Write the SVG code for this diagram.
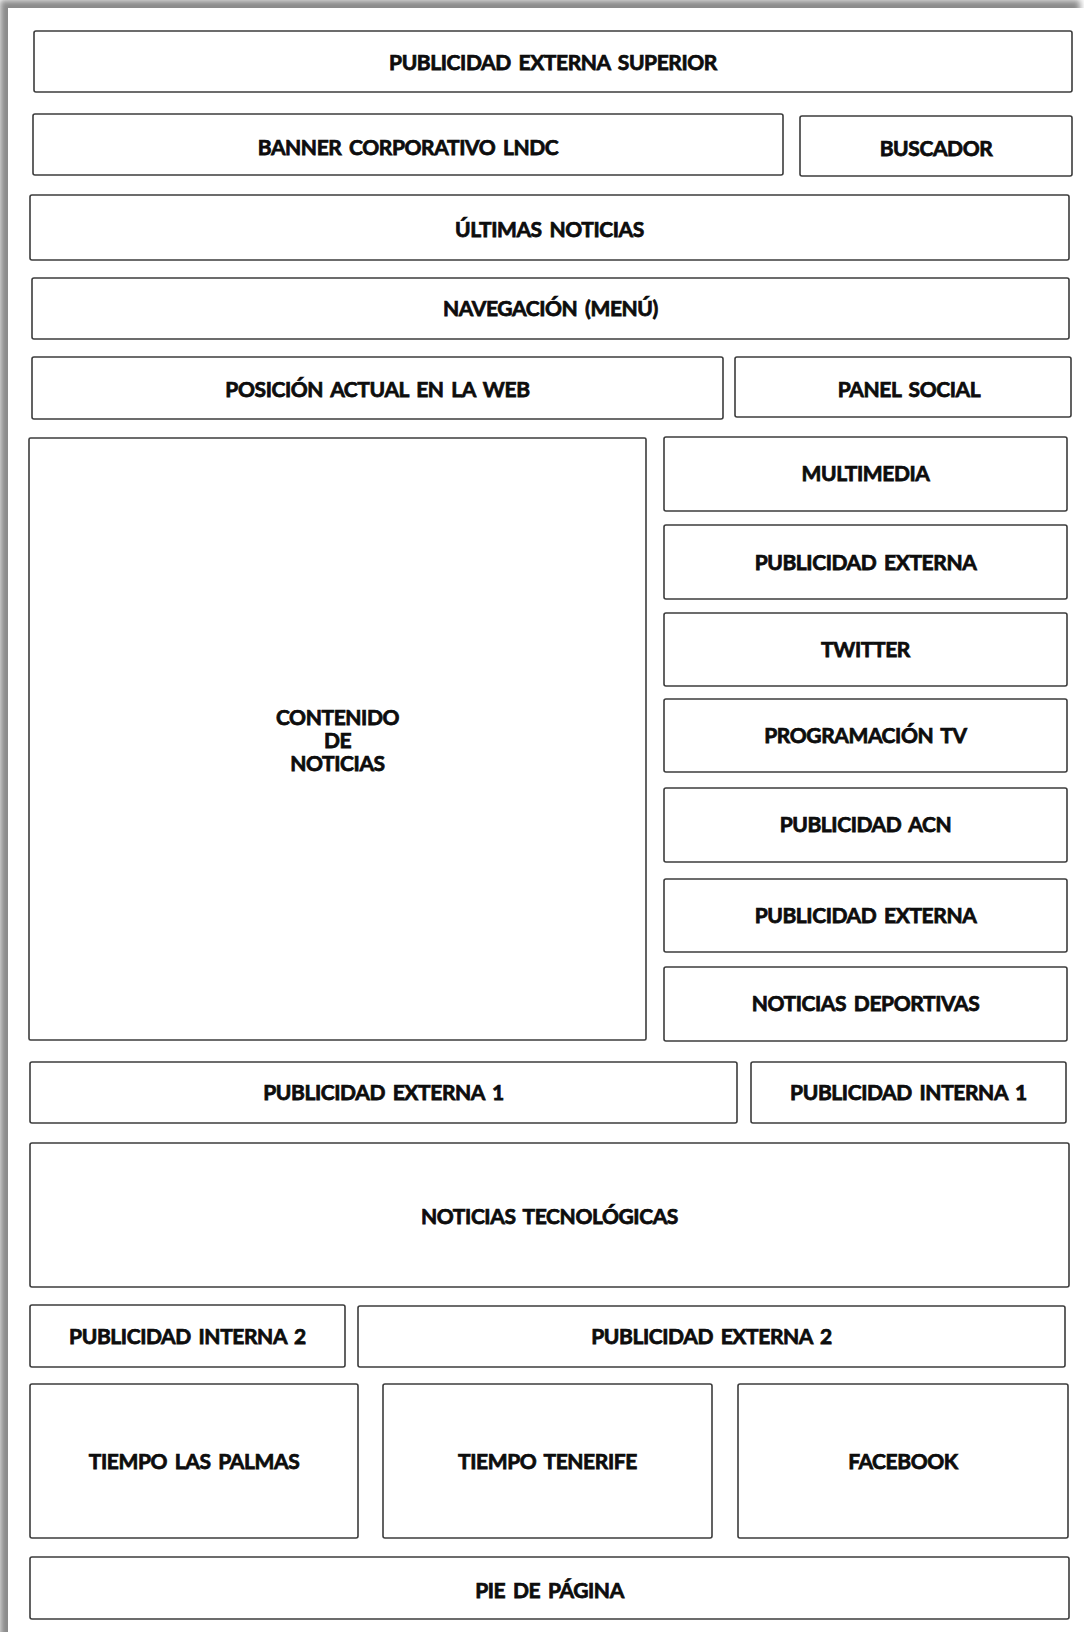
<svg xmlns="http://www.w3.org/2000/svg" width="1084" height="1632" viewBox="0 0 1084 1632">
  <style>
    .box { fill: #ffffff; stroke: #3c3c3c; stroke-width: 1.6; }
    .lbl { font-family: Lato, "Open Sans", "Liberation Sans", sans-serif; font-weight: 700; font-size: 21px; fill: #0d0d0d; stroke: #0d0d0d; stroke-width: 0.75px; text-anchor: middle; letter-spacing: -0.4px; word-spacing: 3px; }
  </style>
  <defs>
    <filter id="pageShadow" x="-5%" y="-5%" width="110%" height="110%">
      <feGaussianBlur stdDeviation="3"/>
    </filter>
  </defs>

  <!-- page sheet with soft drop shadow on top/left -->
  <rect x="0" y="0" width="1084" height="1632" fill="#ffffff"/>
  <rect x="0" y="0" width="1080" height="1650" fill="#8a8a8a" filter="url(#pageShadow)"/>
  <rect x="8" y="8" width="1076" height="1624" fill="#ffffff"/>

  <g id="connectors"/>

  <g id="publicidad-externa-superior">
    <rect class="box" x="34" y="31" width="1038" height="61" rx="2"/>
    <text class="lbl" x="553" y="70">PUBLICIDAD EXTERNA SUPERIOR</text>
  </g>
  <g id="banner-corporativo">
    <rect class="box" x="33" y="114" width="750" height="61" rx="2"/>
    <text class="lbl" x="408" y="155">BANNER CORPORATIVO LNDC</text>
  </g>
  <g id="buscador">
    <rect class="box" x="800" y="116" width="272" height="60" rx="2"/>
    <text class="lbl" x="936" y="155.5">BUSCADOR</text>
  </g>
  <g id="ultimas-noticias">
    <rect class="box" x="30" y="195" width="1039" height="65" rx="2"/>
    <text class="lbl" x="549.5" y="237">ÚLTIMAS NOTICIAS</text>
  </g>
  <g id="navegacion">
    <rect class="box" x="32" y="278" width="1037" height="61" rx="2"/>
    <text class="lbl" x="550.5" y="316">NAVEGACIÓN (MENÚ)</text>
  </g>
  <g id="posicion-actual">
    <rect class="box" x="32" y="357" width="691" height="62" rx="2"/>
    <text class="lbl" x="377.5" y="396.5">POSICIÓN ACTUAL EN LA WEB</text>
  </g>
  <g id="panel-social">
    <rect class="box" x="735" y="357" width="336" height="60" rx="2"/>
    <text class="lbl" x="909" y="396.5">PANEL SOCIAL</text>
  </g>

  <g id="contenido-noticias">
    <rect class="box" x="29" y="438" width="617" height="602" rx="1.5"/>
    <text class="lbl" x="337.5" y="725">CONTENIDO</text>
    <text class="lbl" x="337.5" y="748">DE</text>
    <text class="lbl" x="337.5" y="771">NOTICIAS</text>
  </g>

  <g id="multimedia">
    <rect class="box" x="664" y="437" width="403" height="74" rx="2"/>
    <text class="lbl" x="865.5" y="481">MULTIMEDIA</text>
  </g>
  <g id="publicidad-externa-a">
    <rect class="box" x="664" y="525" width="403" height="74" rx="2"/>
    <text class="lbl" x="865.5" y="569.5">PUBLICIDAD EXTERNA</text>
  </g>
  <g id="twitter">
    <rect class="box" x="664" y="613" width="403" height="73" rx="2"/>
    <text class="lbl" x="865.5" y="657">TWITTER</text>
  </g>
  <g id="programacion-tv">
    <rect class="box" x="664" y="699" width="403" height="73" rx="2"/>
    <text class="lbl" x="865.5" y="743">PROGRAMACIÓN TV</text>
  </g>
  <g id="publicidad-acn">
    <rect class="box" x="664" y="788" width="403" height="74" rx="2"/>
    <text class="lbl" x="865.5" y="832">PUBLICIDAD ACN</text>
  </g>
  <g id="publicidad-externa-b">
    <rect class="box" x="664" y="879" width="403" height="73" rx="2"/>
    <text class="lbl" x="865.5" y="923">PUBLICIDAD EXTERNA</text>
  </g>
  <g id="noticias-deportivas">
    <rect class="box" x="664" y="967" width="403" height="74" rx="2"/>
    <text class="lbl" x="865.5" y="1011">NOTICIAS DEPORTIVAS</text>
  </g>

  <g id="publicidad-externa-1">
    <rect class="box" x="30" y="1062" width="707" height="61" rx="2"/>
    <text class="lbl" x="383.5" y="1100">PUBLICIDAD EXTERNA 1</text>
  </g>
  <g id="publicidad-interna-1">
    <rect class="box" x="751" y="1062" width="315" height="61" rx="2"/>
    <text class="lbl" x="908.5" y="1100">PUBLICIDAD INTERNA 1</text>
  </g>
  <g id="noticias-tecnologicas">
    <rect class="box" x="30" y="1143" width="1039" height="144" rx="2"/>
    <text class="lbl" x="549.5" y="1223.5">NOTICIAS TECNOLÓGICAS</text>
  </g>
  <g id="publicidad-interna-2">
    <rect class="box" x="30" y="1305" width="315" height="62" rx="2"/>
    <text class="lbl" x="187.5" y="1343.5">PUBLICIDAD INTERNA 2</text>
  </g>
  <g id="publicidad-externa-2">
    <rect class="box" x="358" y="1306" width="707" height="61" rx="2"/>
    <text class="lbl" x="711.5" y="1344">PUBLICIDAD EXTERNA 2</text>
  </g>
  <g id="tiempo-las-palmas">
    <rect class="box" x="30" y="1384" width="328" height="154" rx="2"/>
    <text class="lbl" x="194" y="1468.5">TIEMPO LAS PALMAS</text>
  </g>
  <g id="tiempo-tenerife">
    <rect class="box" x="383" y="1384" width="329" height="154" rx="2"/>
    <text class="lbl" x="547.5" y="1468.5">TIEMPO TENERIFE</text>
  </g>
  <g id="facebook">
    <rect class="box" x="738" y="1384" width="330" height="154" rx="2"/>
    <text class="lbl" x="903" y="1468.5">FACEBOOK</text>
  </g>
  <g id="pie-de-pagina">
    <rect class="box" x="30" y="1557" width="1039" height="62" rx="2"/>
    <text class="lbl" x="549.5" y="1597.5">PIE DE PÁGINA</text>
  </g>
</svg>
